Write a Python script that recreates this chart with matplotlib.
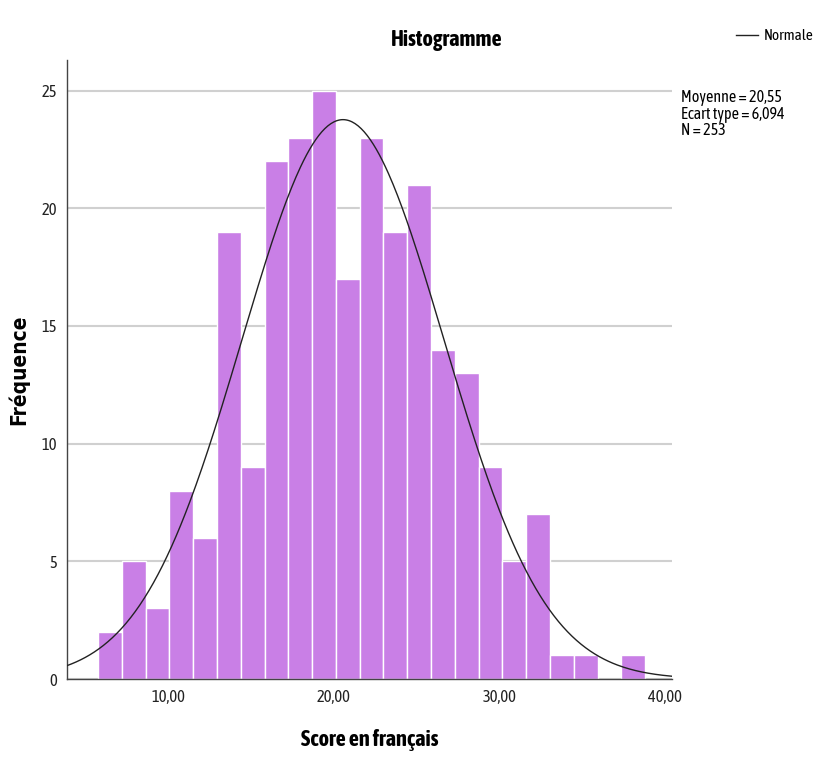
import numpy as np
import matplotlib.pyplot as plt
from matplotlib import font_manager

# histogram counts (SPSS style)
counts = [2, 5, 3, 8, 6, 19, 9, 22, 23, 25, 17, 23, 19, 21, 14, 13, 9, 5, 7, 1, 1, 0, 1]
bin_start = 5.77
bin_width = 1.435
mean = 20.55
sd = 6.094
n = 253
xticks = [10, 20, 30, 40]
xtick_labels = ['10,00', '20,00', '30,00', '40,00']
yticks = [0, 5, 10, 15, 20, 25]

# condensed families that also have a bold face
fonts = font_manager.fontManager.ttflist
narrow = sorted({f.name for f in fonts if ('Narrow' in f.name or 'Condensed' in f.name)})
bold_narrow = sorted({f.name for f in fonts if f.name in narrow and
                      (f.weight in ('bold', 700) or (isinstance(f.weight, int) and f.weight >= 600))})
fam = bold_narrow[0] if bold_narrow else (narrow[0] if narrow else 'DejaVu Sans')
plt.rcParams['font.family'] = [fam, 'DejaVu Sans']
plt.rcParams['font.stretch'] = 'condensed'

fig = plt.figure(figsize=(8.14, 7.58), dpi=100)
ax = fig.add_axes([0.0823, 0.1042, 0.7433, 0.8166])

edges = bin_start + bin_width * np.arange(len(counts) + 1)
ax.bar(edges[:-1], counts, width=bin_width, align='edge',
       color='#c97fe6', edgecolor='white', linewidth=1.0, zorder=2)

xs = np.linspace(3.9, 40.4, 400)
ys = n * bin_width / (sd * np.sqrt(2 * np.pi)) * np.exp(-0.5 * ((xs - mean) / sd) ** 2)
line, = ax.plot(xs, ys, color='#222222', linewidth=1.0, zorder=3)

ax.set_xlim(3.9, 40.4)
ax.set_ylim(0, 26.3)
ax.set_xticks(xticks)
ax.set_xticklabels(xtick_labels)
ax.set_yticks(yticks)
ax.tick_params(length=0, labelsize=12, colors='#222222', pad=7)
ax.yaxis.grid(True, color='#d0d0d0', linewidth=1.5, zorder=0)
ax.set_axisbelow(True)
for s in ['top', 'right']:
    ax.spines[s].set_visible(False)
for s in ['left', 'bottom']:
    ax.spines[s].set_color('#444444')
    ax.spines[s].set_linewidth(1.0)

ax.set_xlabel('Score en français', fontsize=16, fontweight='bold')
ax.set_ylabel('Fréquence', fontsize=15, fontweight='bold', family='DejaVu Sans')
ax.xaxis.set_label_coords(0.5, -0.08)
ax.yaxis.set_label_coords(-0.062, 0.5)
fig.text(0.549, 0.947, 'Histogramme', fontsize=16, fontweight='bold', ha='center', va='center')

fig.text(0.836, 0.882, 'Moyenne = 20,55\nEcart type = 6,094\nN = 253',
         fontsize=11.5, ha='left', va='top', linespacing=0.95)
fig.legend([line], ['Normale'], loc='center', bbox_to_anchor=(0.952, 0.952),
           frameon=False, fontsize=11, handlelength=1.4, handletextpad=0.4)

fig.savefig('out.png', dpi=100)
